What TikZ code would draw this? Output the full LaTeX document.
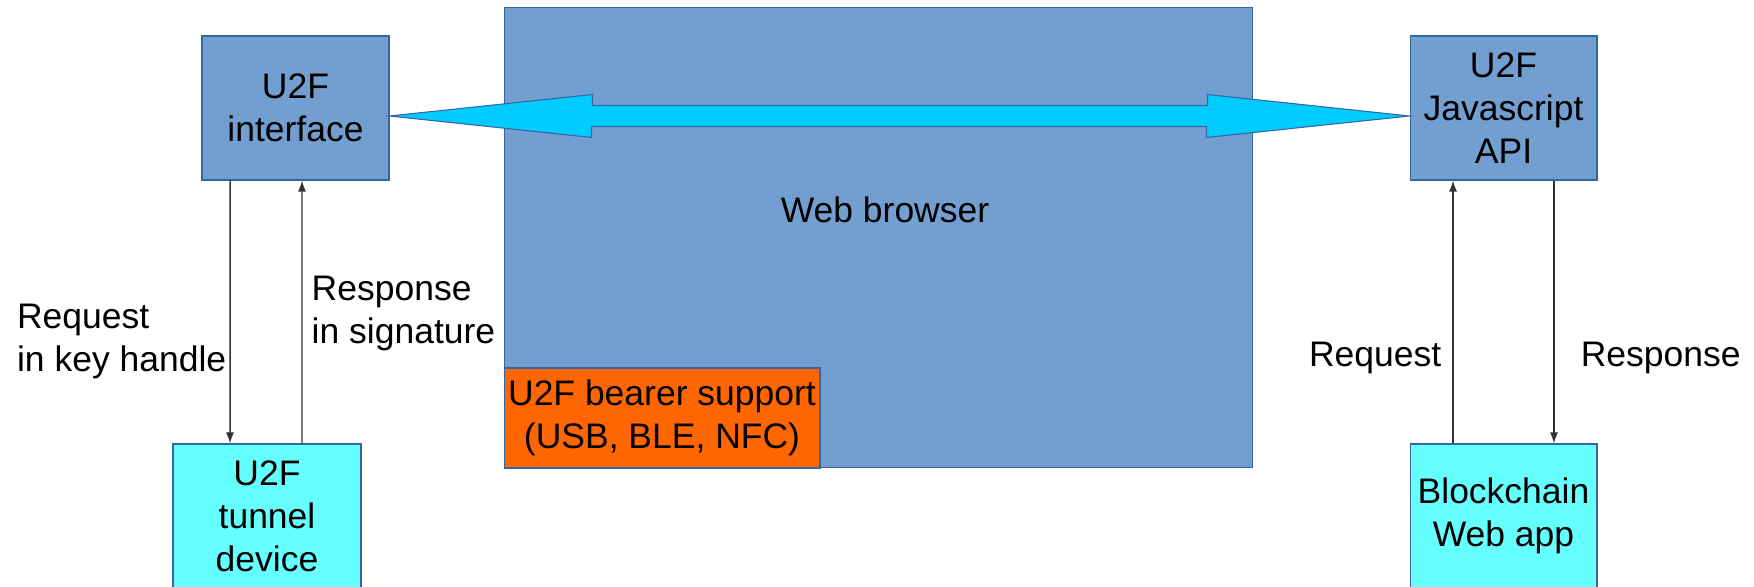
\documentclass[tikz,border=0pt]{standalone}
\usepackage{fontspec}
\setmainfont{Liberation Sans}
\usetikzlibrary{arrows.meta}

\definecolor{boxblue}{HTML}{729FCF}
\definecolor{edgeblue}{HTML}{3465A4}
\definecolor{arrowcyan}{HTML}{00CCFF}
\definecolor{devcyan}{HTML}{66FFFF}
\definecolor{bearerorange}{HTML}{FF6600}

\begin{document}
\begin{tikzpicture}[x=0.02cm,y=-0.02cm,
	box/.style={draw=edgeblue,line width=0.6pt,inner sep=0pt,align=center,font=\fontsize{20.2}{24.5}\selectfont},
	lbl/.style={inner sep=0pt,align=left,font=\fontsize{20.2}{24.5}\selectfont},
	flow/.style={draw=black!80,line width=0.85pt,-{Latex[length=0.22cm,width=0.16cm]}}]
	\useasboundingbox (0,0) rectangle (1754,587);
	% browser with the bearer block in its corner
	\node[box,fill=boxblue,minimum width=14.98cm,minimum height=9.22cm] (browser) at (878.5,237.5) {};
	\node[lbl] (browsertxt) at (885,210) {Web browser};
	\node[box,fill=bearerorange,minimum width=6.32cm,minimum height=2cm] (bearer) at (662,418) {U2F bearer support\\(USB, BLE, NFC)};
	% the four boxes
	\node[box,fill=boxblue,minimum width=3.74cm,minimum height=2.88cm] (iface) at (295.5,108) {U2F\\interface};
	\node[box,fill=boxblue,minimum width=3.74cm,minimum height=2.88cm] (jsapi) at (1503.5,108) {U2F\\Javascript\\API};
	\node[box,fill=devcyan,minimum width=3.76cm,minimum height=2.88cm] (tunnel) at (267,516) {U2F\\tunnel\\device};
	\node[box,fill=devcyan,minimum width=3.74cm,minimum height=2.88cm] (webapp) at (1503.5,516) {Blockchain\\Web app};
	% big double arrow across the browser
	\draw[edgeblue,fill=arrowcyan,line width=0.6pt] ([yshift=-0.16cm]iface.east) -- ++(203,-21.5) -- ++(0,11) -- ++(615,0) -- ++(0,-11)
		-- ([yshift=-0.16cm]jsapi.west) -- ++(-203,21.5) -- ++(0,-11) -- ++(-615,0) -- ++(0,11) -- cycle;
	% requests and responses
	\draw[flow] ([xshift=-1.31cm]iface.south) -- node[lbl,anchor=east,pos=0.611,xshift=-0.06cm] (reqkey) {Request\\in key handle} ([xshift=-0.74cm]tunnel.north);
	\draw[flow] ([xshift=0.7cm]tunnel.north) -- node[lbl,anchor=west,pos=0.493,xshift=0.18cm] (ressig) {Response\\in signature} ([xshift=0.13cm]iface.south);
	\draw[flow] ([xshift=-1.01cm]webapp.north) -- node[lbl,anchor=east,pos=0.327,xshift=-0.22cm] (reqapp) {Request} ([xshift=-1.01cm]jsapi.south);
	\draw[flow] ([xshift=1.01cm]jsapi.south) -- node[lbl,anchor=west,pos=0.673,xshift=0.52cm] (resapp) {Response} ([xshift=1.01cm]webapp.north);
\end{tikzpicture}
\end{document}
